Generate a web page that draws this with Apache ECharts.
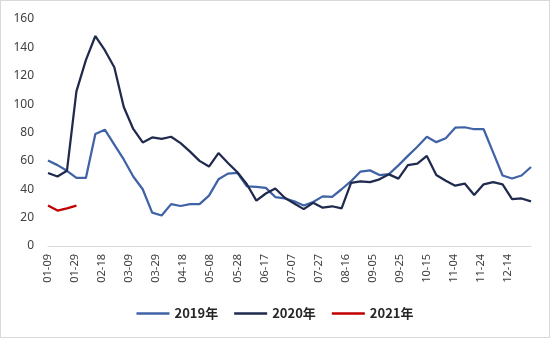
<!DOCTYPE html>
<html>
<head>
<meta charset="utf-8">
<style>
  html, body { margin: 0; padding: 0; background: #fff; }
  #chart { width: 550px; height: 338px; box-sizing: border-box; border: 1px solid #d9d9d9; }
</style>
<script src="https://cdn.jsdelivr.net/npm/echarts@6/dist/echarts.min.js"></script>
</head>
<body>
<div id="chart"></div>
<script>
// Weekly readings; x positions are days counted from 01-09
const tickLabels = ['01-09', '01-29', '02-18', '03-09', '03-29', '04-18', '05-08', '05-28', '06-17',
  '07-07', '07-27', '08-16', '09-05', '09-25', '10-15', '11-04', '11-24', '12-14'];

const values2019 = [60.3, 57, 53, 48, 48, 79, 82, 71.5, 61, 49, 40, 23.5, 21.5, 29.5, 28.2, 29.5,
  29.5, 35.5, 47, 51, 51.5, 42, 41.7, 41, 34.5, 33.5, 31.5, 28.5, 31, 35, 34.7, 40, 45.7, 52.5,
  53.3, 50, 50.7, 56.8, 63.5, 70, 77, 73.2, 76, 83.4, 83.7, 82.3, 82.3, 66, 49.7, 47.6, 49.7, 55.7];

const values2020 = [51.5, 49, 53, 109, 131, 148, 138, 126, 98, 82.5, 73, 76.5, 75.5, 77, 72.5, 66.5,
  60, 56, 65.5, 58.5, 52, 43.5, 32, 37, 40.5, 34, 30, 26, 30.5, 27, 28, 26.5, 44.5, 45.5, 45, 47,
  50.5, 47.5, 57, 58, 63.5, 50, 46, 42.5, 44, 36, 43.5, 45, 43.5, 33, 33.5, 31.5];

const values2021 = [28.5, 25, 26.5, 28.5];

const DAYS_PER_WEEK = 7;
const LABEL_STEP = 20;

function toPoints(values) {
  return values.map((v, i) => [i * DAYS_PER_WEEK, v]);
}

const chart = echarts.init(document.getElementById('chart'));

const lineSeries = (name, values, color) => ({
  name: name,
  type: 'line',
  data: toPoints(values),
  showSymbol: false,
  symbol: 'none',
  lineStyle: { color: color, width: 2.25 },
  itemStyle: { color: color },
  animation: false
});

chart.setOption({
  backgroundColor: '#ffffff',
  grid: { left: 47, right: 18, top: 18, bottom: 91 },
  xAxis: {
    type: 'value',
    min: 0,
    max: (values2020.length - 1) * DAYS_PER_WEEK,
    interval: LABEL_STEP,
    axisLine: { show: true, lineStyle: { color: '#d9d9d9', width: 1 } },
    axisTick: { show: false },
    splitLine: { show: false },
    axisLabel: {
      rotate: 90,
      margin: 8,
      showMaxLabel: false,
      color: '#404040',
      fontFamily: 'Noto Sans',
      fontSize: 11,
      formatter: function (v) {
        if (v % LABEL_STEP !== 0) return '';
        return tickLabels[v / LABEL_STEP] || '';
      }
    }
  },
  yAxis: {
    type: 'value',
    min: 0,
    max: 160,
    interval: 20,
    axisLine: { show: false },
    axisTick: { show: false },
    splitLine: { show: false },
    axisLabel: {
      margin: 14,
      color: '#404040',
      fontFamily: 'Noto Sans',
      fontSize: 12
    }
  },
  legend: {
    bottom: 12,
    left: 'center',
    icon: 'rect',
    itemWidth: 33,
    itemHeight: 2.5,
    itemGap: 16,
    textStyle: {
      fontFamily: 'Noto Sans CJK SC',
      fontWeight: 'bold',
      fontSize: 13,
      color: '#262626'
    },
    data: ['2019年', '2020年', '2021年']
  },
  series: [
    lineSeries('2019年', values2019, '#3f63a6'),
    lineSeries('2020年', values2020, '#1f2a4e'),
    lineSeries('2021年', values2021, '#c00000')
  ]
});
</script>
</body>
</html>
